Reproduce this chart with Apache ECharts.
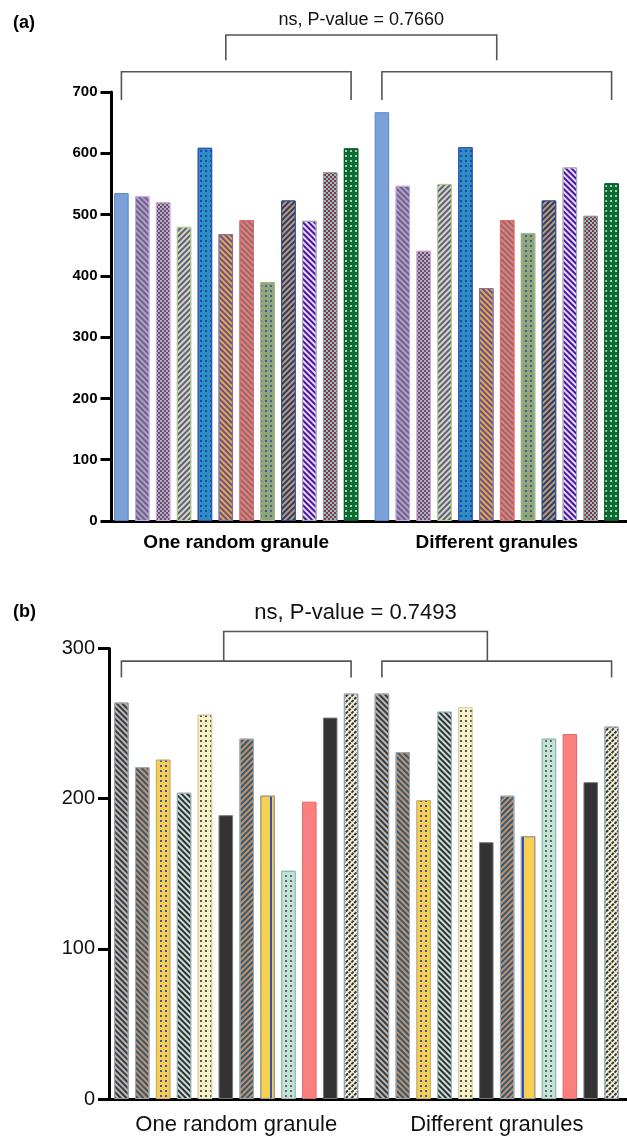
<!DOCTYPE html>
<html><head><meta charset="utf-8">
<script src="https://cdn.jsdelivr.net/npm/echarts@6/dist/echarts.min.js"></script>
<style>html,body{margin:0;padding:0;background:#fff}#c{width:627px;height:1137px}</style>
</head><body><div id="c"></div>
<script>
// ---------- data ----------
const categories = ['One random granule', 'Different granules'];
const panelAOne  = [535, 530, 520, 480, 609, 468, 491, 390, 523, 490, 569, 608];
const panelADiff = [667, 547, 441, 550, 610, 380, 491, 470, 523, 577, 498, 551];
const panelBOne  = [264, 221, 226, 204, 256, 189, 240, 202, 152, 198, 254, 270];
const panelBDiff = [270, 231, 199, 258, 261, 171, 202, 175, 240, 243, 211, 248];
const ticksA = [0, 100, 200, 300, 400, 500, 600, 700];
const ticksB = [0, 100, 200, 300];
const pTextA = 'ns, P-value = 0.7660';
const pTextB = 'ns, P-value = 0.7493';

// ---------- styles ----------
const FONT = "'Liberation Sans', Arial, Helvetica, sans-serif";
function hatch(c, dir) { return {symbol:'rect', symbolSize:1, color:c, dashArrayX:[1,0], dashArrayY:[2,2], rotation: dir*Math.PI/4}; }
function dots(c) { return {symbol:'rect', symbolSize:1, color:c, dashArrayX:[[2,3]], dashArrayY:[2,3], rotation:0}; }
function checker(c) { return {symbol:'rect', symbolSize:1, color:c, dashArrayX:[[2,2],[0,2,2,0]], dashArrayY:[2,0], rotation:0}; }
function vstripe(c) { return {symbol:'rect', symbolSize:1, color:c, dashArrayX:[[0,4,2,8]], dashArrayY:[1,0], rotation:0}; }
function zig(c) { return {symbol:'rect', symbolSize:1, color:c, dashArrayX:[[3,1]], dashArrayY:[2,2], rotation:-Math.PI/4}; }

const stylesA = [
  {color:'#7aa1d8', border:'#5583c9', decal:null},
  {color:'#b497e4', border:'#c2a9ee', decal:hatch('#6a6a6a', 1)},
  {color:'#d29ada', border:'#d7a2de', decal:checker('#4a6354')},
  {color:'#c4e59e', border:'#aed28a', decal:hatch('#7050a0', -1)},
  {color:'#2b8fc4', border:'#3553b4', decal:dots('#2742a8')},
  {color:'#6c4aa6', border:'#8070a6', decal:hatch('#e0b030', 1)},
  {color:'#ee7b78', border:'#e06a6a', decal:hatch('#8a6e6e', 1)},
  {color:'#8ea870', border:'#a4b492', decal:dots('#4058c0')},
  {color:'#1f3f82', border:'#2d4d92', decal:hatch('#c89860', -1)},
  {color:'#4a14a0', border:'#aaaaaa', decal:hatch('#e4dcff', 1)},
  {color:'#6fd2c2', border:'#999999', decal:checker('#a82444')},
  {color:'#0d6a34', border:'#0a5a2a', decal:dots('#9ad8a8')}
];
const stylesB = [
  {color:'#3a3a3a', border:'#9aa0a6', decal:hatch('#b8b8b8', 1)},
  {color:'#1d5f8f', border:'#9aaabb', decal:hatch('#d98c4e', 1)},
  {color:'#f8d04e', border:'#c8b070', decal:dots('#3a52c0')},
  {color:'#c0e4d2', border:'#9bbbbb', decal:hatch('#3a2a3a', 1)},
  {color:'#f8f2c6', border:'#d8d0a0', decal:dots('#555555')},
  {color:'#333333', border:'#777777', decal:null},
  {color:'#1d5f8f', border:'#9aaabb', decal:hatch('#d98c4e', -1)},
  {color:'#f8d04e', border:'#999999', decal:vstripe('#3050c0')},
  {color:'#c2e4d4', border:'#9bbbbb', decal:dots('#666666')},
  {color:'#fa8080', border:'#e06a6a', decal:null},
  {color:'#333333', border:'#777777', decal:null},
  {color:'#f6f4d8', border:'#9aaabb', decal:zig('#333333')}
];

const BAR_W = 14.5, GAP = 0.44;

function makeSeries(one, diff, styles, idx) {
  return one.map((v, i) => ({
    type:'bar', xAxisIndex:idx, yAxisIndex:idx,
    data:[one[i], diff[i]],
    barWidth:BAR_W, barGap:(GAP*100)+'%',
    itemStyle:{color:styles[i].color, borderColor:styles[i].border, borderWidth:1,
               decal: styles[i].decal || undefined},
    emphasis:{disabled:true}
  }));
}

const chart = echarts.init(document.getElementById('c'), null, {renderer:'canvas'});

const option = {
  animation:false,
  backgroundColor:'#ffffff',
  title:[
    {text:'(a)', left:8, top:9, textStyle:{fontFamily:FONT, fontSize:18, fontWeight:'bold', color:'#000'}},
    {text:'(b)', left:8, top:598, textStyle:{fontFamily:FONT, fontSize:18, fontWeight:'bold', color:'#000'}}
  ],
  grid:[
    {left:106, top:92, width:530, height:429},
    {left:106, top:648.5, width:530, height:450.5}
  ],
  xAxis:[
    {gridIndex:0, type:'category', data:categories,
     axisLine:{lineStyle:{color:'#000', width:3}},
     axisTick:{alignWithLabel:true, length:8, lineStyle:{color:'#000', width:3}},
     axisLabel:{interval:0, fontFamily:FONT, fontSize:19, fontWeight:'bold', color:'#000', margin:12}},
    {gridIndex:1, type:'category', data:categories,
     axisLine:{lineStyle:{color:'#000', width:3}},
     axisTick:{alignWithLabel:true, length:10, lineStyle:{color:'#000', width:3}},
     axisLabel:{interval:0, fontFamily:FONT, fontSize:22, color:'#111', margin:15}}
  ],
  yAxis:[
    {gridIndex:0, type:'value', min:ticksA[0], max:ticksA[ticksA.length-1], interval:ticksA[1]-ticksA[0],
     offset:-5.5,
     axisLine:{show:true, lineStyle:{color:'#000', width:3}},
     axisTick:{show:true, length:11, lineStyle:{color:'#000', width:3}},
     splitLine:{show:false},
     axisLabel:{fontFamily:FONT, fontSize:15, fontWeight:'bold', color:'#000', margin:14}},
    {gridIndex:1, type:'value', min:ticksB[0], max:ticksB[ticksB.length-1], interval:ticksB[1]-ticksB[0],
     offset:-3,
     axisLine:{show:true, lineStyle:{color:'#000', width:3}},
     axisTick:{show:true, length:11, lineStyle:{color:'#000', width:3}},
     splitLine:{show:false},
     axisLabel:{fontFamily:FONT, fontSize:20, color:'#111', margin:14}}
  ],
  series:[].concat(
    makeSeries(panelAOne, panelADiff, stylesA, 0),
    makeSeries(panelBOne, panelBDiff, stylesB, 1)
  )
};
chart.setOption(option);

// ---------- significance brackets (annotation) ----------
const bracketDefs = [
  {axis:0, lowerTop:733, lowerFoot:687, upperTop:793, upperFoot:752,
   upperLeft:[0, 5.0], upperRight:[1, 5.5], text:pTextA, textGap:15, fontSize:18},
  {axis:1, lowerTop:291.6, lowerFoot:280.7, upperTop:311.3, upperFoot:291.6,
   upperLeft:[0, 4.9], upperRight:[1, 5.05], text:pTextB, textGap:19, fontSize:22}
];
function barX(axis, cat, barPos) {
  const c = chart.convertToPixel({xAxisIndex:axis, yAxisIndex:axis}, [cat, 0])[0];
  return c + (barPos - 5.5) * BAR_W * (1 + GAP);
}
function yPx(axis, v) { return chart.convertToPixel({xAxisIndex:axis, yAxisIndex:axis}, [0, v])[1]; }

const graphics = [];
bracketDefs.forEach(d => {
  const stroke = {stroke:'#555', lineWidth:1.6, fill:null};
  [0, 1].forEach(cat => {
    const x1 = barX(d.axis, cat, 0), x2 = barX(d.axis, cat, 11);
    const yt = yPx(d.axis, d.lowerTop), yf = yPx(d.axis, d.lowerFoot);
    graphics.push({type:'polyline', silent:true, shape:{points:[[x1,yf],[x1,yt],[x2,yt],[x2,yf]]}, style:stroke});
  });
  const ux1 = barX(d.axis, d.upperLeft[0], d.upperLeft[1]);
  const ux2 = barX(d.axis, d.upperRight[0], d.upperRight[1]);
  const uyt = yPx(d.axis, d.upperTop), uyf = yPx(d.axis, d.upperFoot);
  graphics.push({type:'polyline', silent:true, shape:{points:[[ux1,uyf],[ux1,uyt],[ux2,uyt],[ux2,uyf]]}, style:stroke});
  graphics.push({type:'text', silent:true, x:(ux1+ux2)/2, y:uyt - d.textGap,
    style:{text:d.text, fontFamily:FONT, fontSize:d.fontSize, fill:'#111',
           align:'center', verticalAlign:'middle', textAlign:'center', textVerticalAlign:'middle'}});
});
chart.setOption({graphic:graphics});
</script>
</body></html>
